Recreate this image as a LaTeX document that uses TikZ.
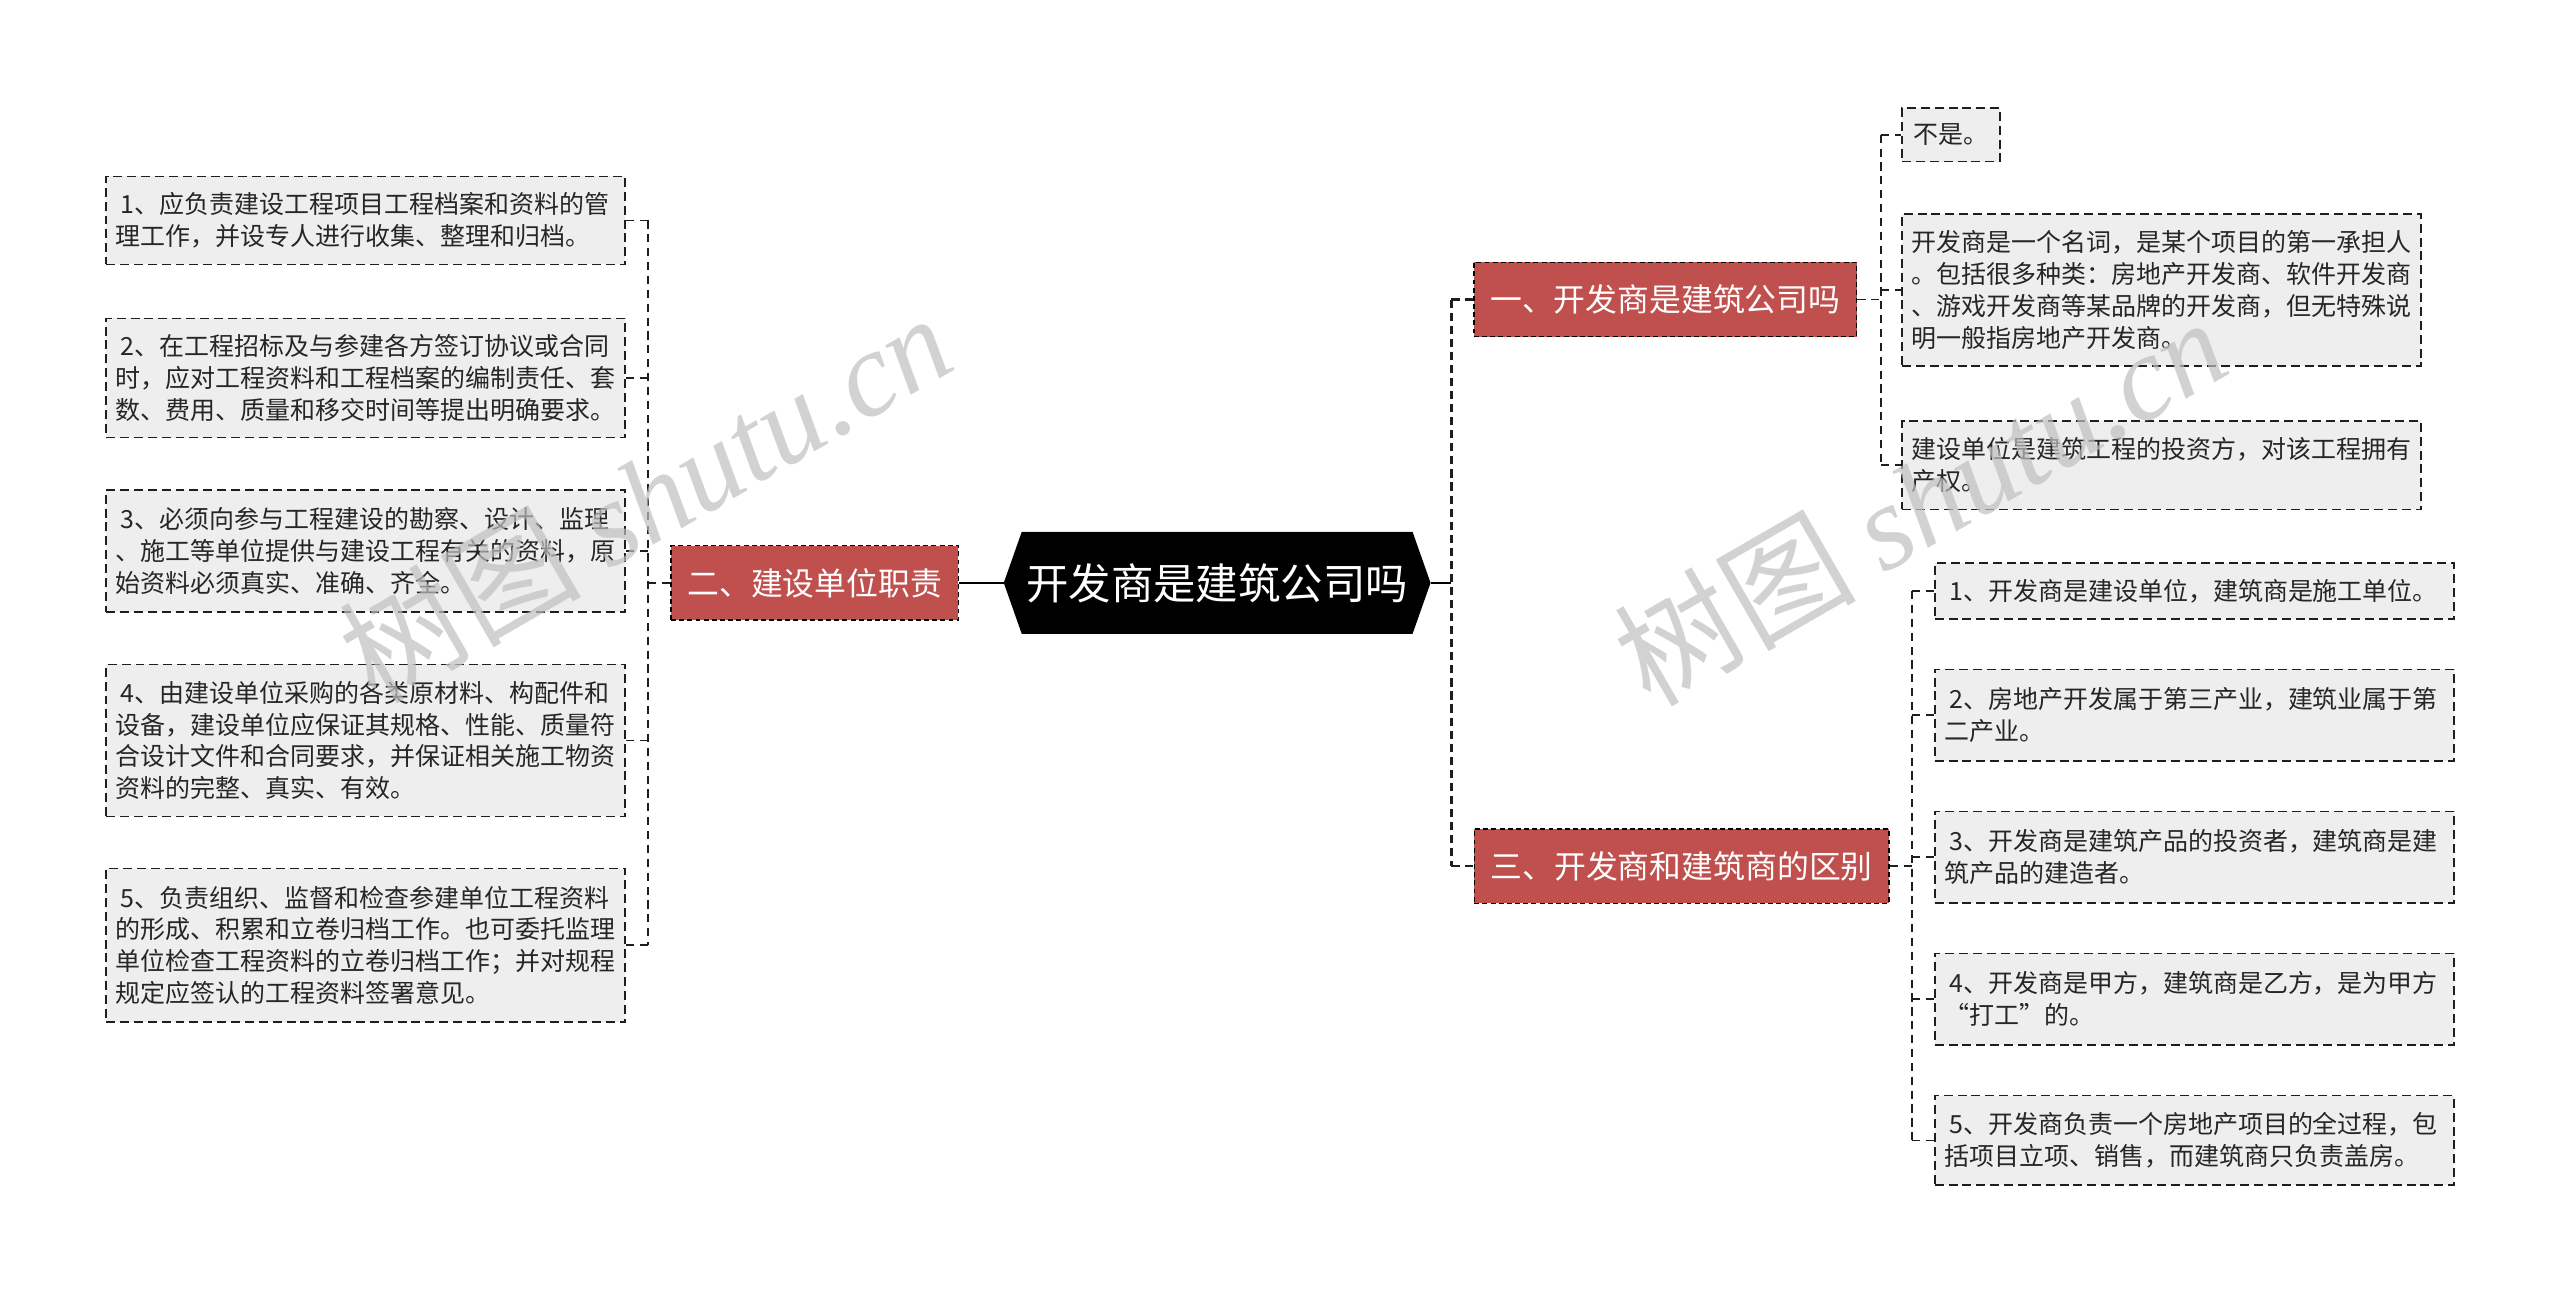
\documentclass[tikz,border=0pt]{standalone}
\usepackage{fontspec}
\setmainfont{Noto Sans CJK SC}
\newfontfamily\wmlatin{Liberation Serif}
\usetikzlibrary{calc,backgrounds}
\definecolor{redbox}{RGB}{192,80,77}
\definecolor{leafgray}{RGB}{238,238,238}
\definecolor{linec}{RGB}{30,30,30}
\tikzset{
 leafbase/.style={draw=linec, line width=1pt, dash pattern=on 5.5pt off 3pt, fill=leafgray, inner xsep=6pt, inner ysep=3pt, font=\fontsize{15.3}{19.5}\selectfont, text=black!85},
 leaf/.style={leafbase, align=left, text width=306pt},
 topic/.style={draw=black, line width=0.8pt, dash pattern=on 3pt off 2pt, fill=redbox, text=white, font=\fontsize{19.5}{22}\selectfont, inner xsep=10pt, inner ysep=0pt, minimum height=45.5pt},
 rootnode/.style={text=white, font=\fontsize{26}{28}\selectfont, minimum width=239pt, minimum height=62pt, inner sep=0pt},
 trunk/.style={draw=linec, line width=1pt, dash pattern=on 5pt off 3.5pt},
 maintrunk/.style={draw=linec, line width=1.6pt, dash pattern=on 5pt off 3pt},
 solidconn/.style={draw=black, line width=1.6pt},
 wm/.style={text=black!25, opacity=0.7, rotate=30, anchor=base west, inner sep=0pt, font=\fontsize{74}{74}\selectfont}
}
\begin{document}
\begin{tikzpicture}[x=1pt,y=-1pt]
\useasboundingbox (0,0) rectangle (1568,791);

% left leaves
\node[leaf, minimum height=54pt] (L1) at (224,135) {\hspace*{3pt}1、应负责建设工程项目工程档案和资料的管\\理工作，并设专人进行收集、整理和归档。};
\node[leaf, minimum height=73pt] (L2) at (224,231.5) {\hspace*{3pt}2、在工程招标及与参建各方签订协议或合同\\时，应对工程资料和工程档案的编制责任、套\\数、费用、质量和移交时间等提出明确要求。};
\node[leaf, minimum height=75pt] (L3) at (224,337.5) {\hspace*{3pt}3、必须向参与工程建设的勘察、设计、监理\\、施工等单位提供与建设工程有关的资料，原\\始资料必须真实、准确、齐全。};
\node[leaf, minimum height=93pt] (L4) at (224,453.5) {\hspace*{3pt}4、由建设单位采购的各类原材料、构配件和\\设备，建设单位应保证其规格、性能、质量符\\合设计文件和合同要求，并保证相关施工物资\\资料的完整、真实、有效。};
\node[leaf, minimum height=94pt] (L5) at (224,579) {\hspace*{3pt}5、负责组织、监督和检查参建单位工程资料\\的形成、积累和立卷归档工作。也可委托监理\\单位检查工程资料的立卷归档工作；并对规程\\规定应签认的工程资料签署意见。};

% topics
\node[topic] (n2) at (499,357) {二、建设单位职责};
\node[topic] (n1) at (1020,183.5) {一、开发商是建筑公司吗};
\node[topic] (n3) at (1030,530.5) {三、开发商和建筑商的区别};

% root
\node[rootnode] (c) at (745.5,357) {开发商是建筑公司吗};
\begin{scope}[on background layer]
\fill[black] (c.north west) -- (c.north east) -- ($(c.east)+(11,0)$) coordinate (ce) -- (c.south east) -- (c.south west) -- ($(c.west)+(-11,0)$) coordinate (cw) -- cycle;
\end{scope}

% right top leaves
\node[leafbase, minimum width=60pt, minimum height=33pt, inner xsep=0pt] (A1) at (1195,82.5) {不是。};
\node[leaf, minimum height=93pt] (A2) at (1324,177.5) {开发商是一个名词，是某个项目的第一承担人\\。包括很多种类：房地产开发商、软件开发商\\、游戏开发商等某品牌的开发商，但无特殊说\\明一般指房地产开发商。};
\node[leaf, minimum height=54pt] (A3) at (1324,285) {建设单位是建筑工程的投资方，对该工程拥有\\产权。};

% right bottom leaves
\node[leaf, minimum height=34pt] (B1) at (1344,362) {\hspace*{3pt}1、开发商是建设单位，建筑商是施工单位。};
\node[leaf, minimum height=56pt] (B2) at (1344,438) {\hspace*{3pt}2、房地产开发属于第三产业，建筑业属于第\\二产业。};
\node[leaf, minimum height=56pt] (B3) at (1344,525) {\hspace*{3pt}3、开发商是建筑产品的投资者，建筑商是建\\筑产品的建造者。};
\node[leaf, minimum height=56pt] (B4) at (1344,612) {\hspace*{3pt}4、开发商是甲方，建筑商是乙方，是为甲方\\“打工”的。};
\node[leaf, minimum height=55pt] (B5) at (1344,698.5) {\hspace*{3pt}5、开发商负责一个房地产项目的全过程，包\\括项目立项、销售，而建筑商只负责盖房。};

% trunk coordinates
\coordinate (lt) at (397,0);
\coordinate (rt) at (889,0);
\coordinate (t1) at (1152,0);
\coordinate (t3) at (1171,0);

% left connectors
\draw[solidconn] (cw) -- (n2.east);
\draw[trunk] (n2.west) -- (n2.west -| lt);
\draw[trunk] (L1.east -| lt) -- (L5.east -| lt);
\foreach \n in {L1,L2,L3,L4,L5} \draw[trunk] (\n.east -| lt) -- (\n.east);

% right connectors
\draw[solidconn] (ce) -- (ce -| rt);
\draw[maintrunk] (n1.west -| rt) -- (n3.west -| rt);
\draw[maintrunk] (n1.west -| rt) -- (n1.west);
\draw[maintrunk] (n3.west -| rt) -- (n3.west);

\draw[trunk] (n1.east) -- (n1.east -| t1);
\draw[trunk] (A1.west -| t1) -- (A3.west -| t1);
\foreach \n in {A1,A2,A3} \draw[trunk] (\n.west -| t1) -- (\n.west);

\draw[trunk] (n3.east) -- (n3.east -| t3);
\draw[trunk] (B1.west -| t3) -- (B5.west -| t3);
\foreach \n in {B1,B2,B3,B4,B5} \draw[trunk] (\n.west -| t3) -- (\n.west);

% watermarks
\node[wm] (w1) at (230,432) {树图 {\wmlatin\itshape shutu.cn}};
\node[wm] (w2) at (1011,434) {树图 {\wmlatin\itshape shutu.cn}};
\end{tikzpicture}
\end{document}
